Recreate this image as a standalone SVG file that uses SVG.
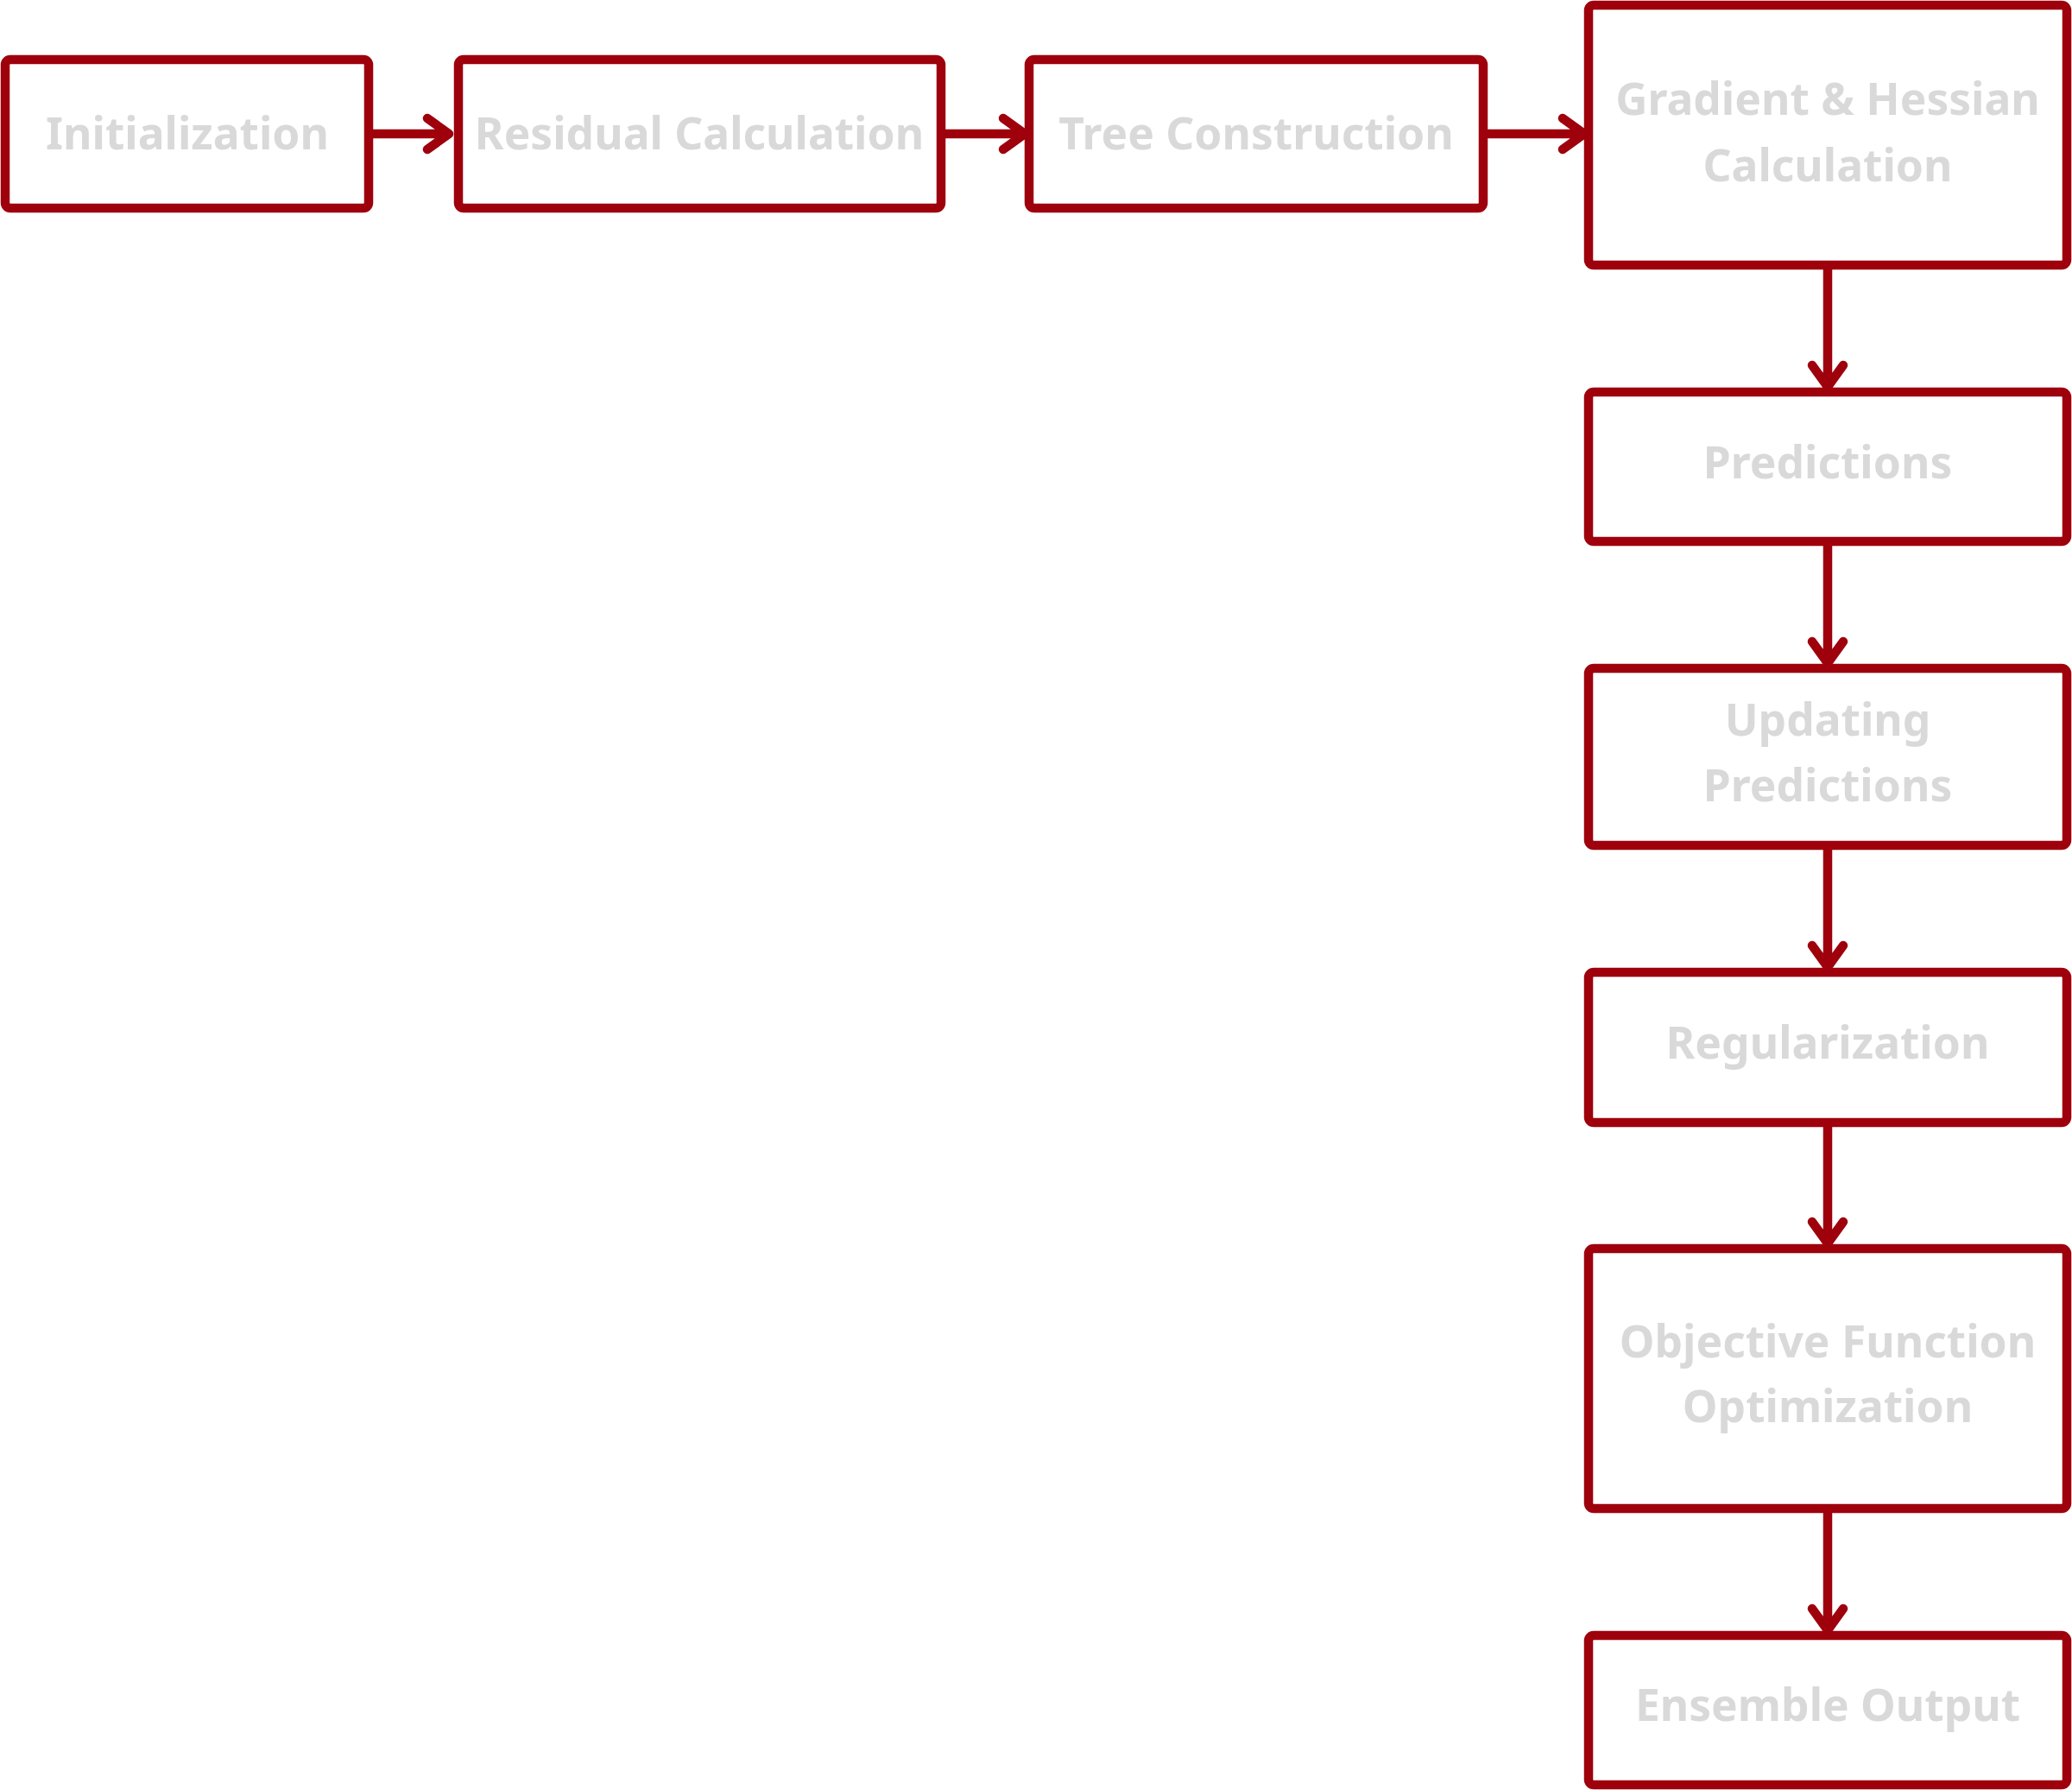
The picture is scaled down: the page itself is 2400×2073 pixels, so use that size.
<svg xmlns="http://www.w3.org/2000/svg" width="2400" height="2073" viewBox="0 0 2400 2073">
<style>
.box{fill:#ffffff;stroke:#9e000c;stroke-width:10.5;stroke-linejoin:round}
.lbl{font-family:"Noto Sans","Open Sans",sans-serif;font-weight:bold;font-size:51.5px;fill:#d9d9d9;text-anchor:middle}
.edge{fill:none;stroke:#9e000c;stroke-width:10.5;stroke-linecap:round;stroke-linejoin:round}
</style>
<rect width="2400" height="2073" fill="#ffffff"/>
<g id="connectors">
<path class="edge" d="M432,155 H519 M495,137 L520,155 L495,173"/>
<path class="edge" d="M1095,155 H1186 M1162,137 L1187,155 L1162,173"/>
<path class="edge" d="M1723,155 H1834 M1810,137 L1835,155 L1810,173"/>
<path class="edge" d="M2117,312 V447 M2099,423 L2117,448 L2135,423"/>
<path class="edge" d="M2117,632 V767 M2099,743 L2117,768 L2135,743"/>
<path class="edge" d="M2117,984 V1119 M2099,1095 L2117,1120 L2135,1095"/>
<path class="edge" d="M2117,1305 V1439 M2099,1415 L2117,1440 L2135,1415"/>
<path class="edge" d="M2117,1752 V1887 M2099,1863 L2117,1888 L2135,1863"/>
</g>
<g id="n1"><rect class="box" x="6" y="69" width="421" height="172" rx="6"/><text class="lbl" x="217" y="173">Initialization</text></g>
<g id="n2"><rect class="box" x="531" y="69" width="559" height="172" rx="6"/><text class="lbl" x="810" y="173">Residual Calculation</text></g>
<g id="n3"><rect class="box" x="1192" y="69" width="526" height="172" rx="6"/><text class="lbl" x="1455" y="173">Tree Construction</text></g>
<g id="n4"><rect class="box" x="1840" y="6" width="554" height="301" rx="6"/><text class="lbl" x="2117" y="133">Gradient &amp; Hessian</text><text class="lbl" x="2117" y="210">Calculation</text></g>
<g id="n5"><rect class="box" x="1840" y="454" width="554" height="173" rx="6"/><text class="lbl" x="2117" y="554">Predictions</text></g>
<g id="n6"><rect class="box" x="1840" y="774" width="554" height="205" rx="6"/><text class="lbl" x="2117" y="852">Updating</text><text class="lbl" x="2117" y="928">Predictions</text></g>
<g id="n7"><rect class="box" x="1840" y="1126" width="554" height="174" rx="6"/><text class="lbl" x="2117" y="1226">Regularization</text></g>
<g id="n8"><rect class="box" x="1840" y="1446" width="554" height="301" rx="6"/><text class="lbl" x="2117" y="1572">Objective Function</text><text class="lbl" x="2117" y="1647">Optimization</text></g>
<g id="n9"><rect class="box" x="1840" y="1894" width="554" height="173" rx="6"/><text class="lbl" x="2117" y="1993">Ensemble Output</text></g>
</svg>
